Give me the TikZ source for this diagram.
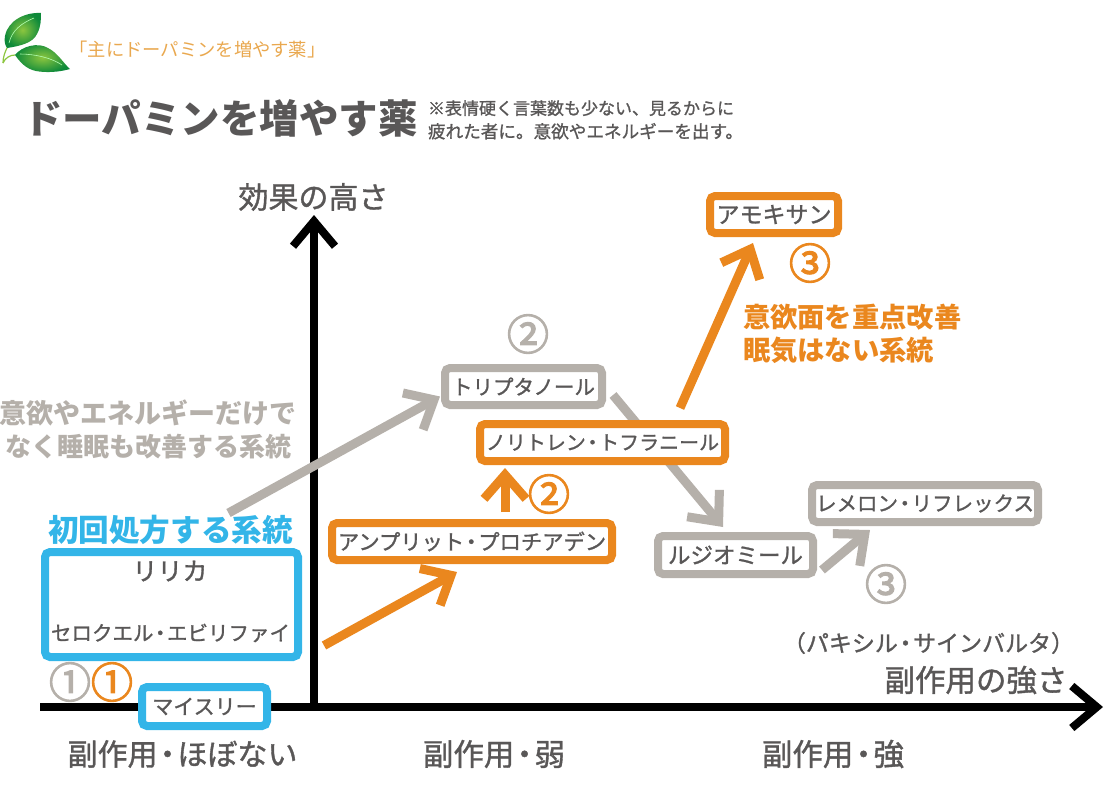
\documentclass[tikz,border=0pt]{standalone}
\usepackage{fontspec}
\setmainfont{Noto Sans CJK JP}
\newfontfamily\mf{Noto Sans CJK JP}[FakeBold=1.2]
\newfontfamily\nf{Noto Sans CJK JP}[FakeBold=3]
\usetikzlibrary{arrows.meta}
\pgfdeclarelayer{under}
\pgfsetlayers{under,main}
\definecolor{txt}{HTML}{595757}
\definecolor{org}{HTML}{EA871E}
\definecolor{gry}{HTML}{B5B0AA}
\definecolor{blu}{HTML}{33B5E8}
\definecolor{cap}{HTML}{E9A84F}
\definecolor{lfi}{HTML}{8CC63F}
\definecolor{lfo}{HTML}{0E8A3A}
\newcommand{\fs}[1]{\fontsize{#1}{#1}\selectfont}
\newcommand{\dt}{\kern-.17em・\kern-.17em}
\tikzset{
 lab/.style={inner sep=0pt,outer sep=0pt,align=center,text=txt},
 boxn/.style={draw=#1,line width=8pt,rounded corners=5pt,fill=white,inner sep=0pt,outer sep=0pt,text=txt,align=center},
 axisl/.style={draw=black,line width=8pt,-{Straight Barb[length=25pt,width=42pt]}},
 conn/.style={draw=#1,line width=9pt,-{Straight Barb[length=24pt,width=42pt]}},
 num/.style={inner sep=0pt,outer sep=0pt,text=#1,font=\fs{42}\nf},
}
\begin{document}
\begin{tikzpicture}[x=1pt,y=-1pt]
\useasboundingbox (0,0) rectangle (1104,807);
% leaves
\shade[inner color=lfi,outer color=lfo,shading=radial] (41,13) .. controls (26,12) and (8,20) .. (5,36) .. controls (4,41) and (5,45) .. (7,48) .. controls (20,46) and (33,43) .. (37,34) .. controls (41,27) and (41,19) .. (41,13) -- cycle;
\shade[inner color=lfi,outer color=lfo,shading=radial] (15,55) .. controls (22,46) and (38,42) .. (48,48) .. controls (58,53) and (64,64) .. (70,69) .. controls (60,72) and (46,73) .. (36,71) .. controls (26,69) and (20,62) .. (15,55) -- cycle;
\draw[white!70!green,line width=.6pt] (9,43) .. controls (12,30) and (22,23) .. (34,18);
\draw[white!70!green,line width=.6pt] (20,54) .. controls (35,54) and (52,58) .. (62,65);
\draw[lfi,line width=1.2pt] (3,63) .. controls (3,57) and (5,52) .. (7,48);
\draw[lfi,line width=1.2pt] (3,63) .. controls (5,58) and (10,55) .. (15,55);
% headings
\node[lab,text=cap,font=\fs{18.3}] (cap) at (197.5,50) {「主にドーパミンを増やす薬」};
\node[lab,font=\fs{39.5}\bfseries] (ttl) at (220.5,118) {ドーパミンを増やす薬};
\node[lab,anchor=base west,align=left,font=\mf] (n1) at (428,138) {{\fs{17}※表情硬く言葉数も少ない、見るからに}\\[6pt]{\fs{17.6}疲れた者に。意欲やエネルギーを出す。}};
% axes
\coordinate (xs) at (40,707);
\coordinate (xe) at (1103,707);
\coordinate (ye) at (314,215);
\coordinate (ys) at (314,707);
\draw[axisl] (ys) -- (ye);
\draw[axisl] (xs) -- (xe);
% axis labels
\node[lab,font=\fs{30}\mf] (yl) at (313.5,197) {効果の高さ};
\node[lab,font=\fs{30.5}\mf] (xl) at (976,680) {副作用の強さ};
\node[lab,font=\fs{23}\mf] (pak) at (928.5,643) {（パキシル\dt サインバルタ）};
\node[lab,font=\fs{30}\mf] (x1) at (182.5,754) {副作用\dt ほぼない};
\node[lab,font=\fs{30.5}\mf] (x2) at (494,754) {副作用\dt 弱};
\node[lab,font=\fs{30.5}\mf] (x3) at (833,754) {副作用\dt 強};
% blue group
\node[lab,text=blu,font=\fs{30.6}\bfseries] (hd) at (170.5,530) {初回処方する系統};
\node[boxn=blu,minimum width=253pt,minimum height=105pt] (rika) at (171.5,604.5) {};
\node[lab,font=\fs{25}\mf] (rr) at (170,571) {リリカ};
\node[lab,font=\fs{20.5}\mf] (sero) at (170.5,633) {セロクエル\dt エビリファイ};
\node[boxn=blu,minimum width=125pt,minimum height=39pt,font=\fs{21}\mf] (mai) at (204.5,706.5) {マイスリー};
% boxes
\node[boxn=org,minimum width=280pt,minimum height=37pt,font=\fs{21.3}\mf] (amp) at (472,541.5) {アンプリット\dt プロチアデン};
\node[boxn=gry,minimum width=157pt,minimum height=37pt,font=\fs{20.5}\mf] (tri) at (523.5,386.5) {トリプタノール};
\node[boxn=org,minimum width=245pt,minimum height=37pt,font=\fs{20}\mf] (nor) at (602.5,442.5) {ノリトレン\dt トフラニール};
\node[boxn=gry,minimum width=155pt,minimum height=38pt,font=\fs{22.5}\mf] (ruj) at (735.5,555) {ルジオミール};
\node[boxn=gry,minimum width=226pt,minimum height=37pt,font=\fs{20.5}\mf] (rem) at (925,503.5) {レメロン\dt リフレックス};
\node[boxn=org,minimum width=128pt,minimum height=37pt,font=\fs{23}\mf] (amo) at (774,214.5) {アモキサン};
% side texts
\node[lab,text=gry,font=\fs{27}\bfseries] (g1) at (148,413) {意欲やエネルギーだけで};
\node[lab,text=gry,font=\fs{26}\bfseries] (g2) at (148.5,447) {なく睡眠も改善する系統};
\node[lab,text=org,anchor=west,font=\fs{27.3}\bfseries] (o1) at (743,317) {意欲面を重点改善};
\node[lab,text=org,anchor=west,font=\fs{27.3}\bfseries] (o2) at (743,350) {眠気はない系統};
% numbers
\node[num=gry] (c1) at (70,682) {①};
\node[num=org] (c2) at (112,682) {①};
\node[num=org] (c3) at (549,494) {②};
\node[num=gry] (c4) at (528,334) {②};
\node[num=org] (c5) at (810,263) {③};
\node[num=gry] (c6) at (886,584) {③};
% connectors
\draw[conn=gry] ([xshift=58pt,yshift=17pt]hd.center) -- ([xshift=-5pt,yshift=-10pt]tri.west);
\draw[conn=org] ([xshift=26pt,yshift=-41pt]rika.east) -- ([xshift=-15pt,yshift=-12pt]amp.south);
\draw[conn=org] ([xshift=33pt,yshift=11pt]amp.north) -- ([xshift=-97.5pt,yshift=-7pt]nor.south);
\draw[conn=org] ([xshift=-45pt,yshift=16pt]nor.north east) -- ([xshift=-21pt,yshift=-10pt]amo.south);
\begin{pgfonlayer}{under}
\draw[conn=gry] ([xshift=11pt,yshift=10pt]tri.south east) -- ([xshift=-12.5pt,yshift=9pt]ruj.north);
\end{pgfonlayer}
\draw[conn=gry] ([xshift=9pt,yshift=-15pt]ruj.east) -- ([xshift=-55pt,yshift=-8pt]rem.south);
\end{tikzpicture}
\end{document}
